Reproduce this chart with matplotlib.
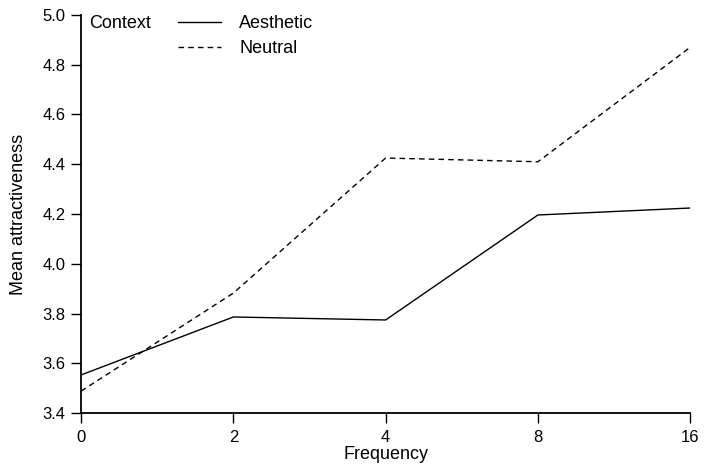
import matplotlib.pyplot as plt
from matplotlib.lines import Line2D

# ─── DATA ───────────────────────────────────────────────────────────────────
frequency  = ["0", "2", "4", "8", "16"]
aesthetic  = [3.553, 3.786, 3.774, 4.196, 4.224]
neutral    = [3.488, 3.882, 4.425, 4.410, 4.870]
y_ticks    = [3.4, 3.6, 3.8, 4.0, 4.2, 4.4, 4.6, 4.8, 5.0]

plt.rcParams["font.family"] = ["Liberation Sans", "DejaVu Sans"]
FS_TICK  = 12
FS_LABEL = 13

fig = plt.figure(figsize=(7.05, 4.68), dpi=100)
ax = fig.add_axes([0.115, 0.1175, 0.864, 0.8505])

pos = list(range(len(frequency)))
ax.plot(pos, aesthetic, color="black", lw=1.0, label="Aesthetic")
ax.plot(pos, neutral, color="black", lw=1.0, linestyle=(0, (4, 3)), label="Neutral")

ax.set_xlim(0, len(frequency) - 1)
ax.set_ylim(3.4, 5.0)
ax.set_xticks(pos)
ax.set_xticklabels(frequency)
ax.set_yticks(y_ticks)
ax.set_yticklabels([f"{v:.1f}" for v in y_ticks])

for s in ["top", "right"]:
    ax.spines[s].set_visible(False)
for s in ["left", "bottom"]:
    ax.spines[s].set_linewidth(1.3)
ax.tick_params(direction="out", length=7, width=1.0, labelsize=FS_TICK, colors="black")
ax.tick_params(axis="x", pad=5)
ax.tick_params(axis="y", pad=4)
ax.set_xlabel("Frequency", fontsize=FS_LABEL, labelpad=1)
ax.set_ylabel("Mean attractiveness", fontsize=FS_LABEL)
ax.yaxis.set_label_coords(-0.088, 0.5)

# legend with "Context" title on the left
ax.text(0.014, 0.978, "Context", transform=ax.transAxes, fontsize=FS_LABEL, va="center", ha="left")
handles = [Line2D([], [], color="black", lw=1.0),
           Line2D([], [], color="black", lw=1.0, linestyle=(0, (4, 3)))]
ax.legend(handles, ["Aesthetic", "Neutral"], loc="upper left",
          bbox_to_anchor=(0.132, 1.04), frameon=False, fontsize=FS_LABEL,
          handlelength=2.4, handletextpad=1.0, labelspacing=0.45)

plt.savefig("out.png", dpi=100)
